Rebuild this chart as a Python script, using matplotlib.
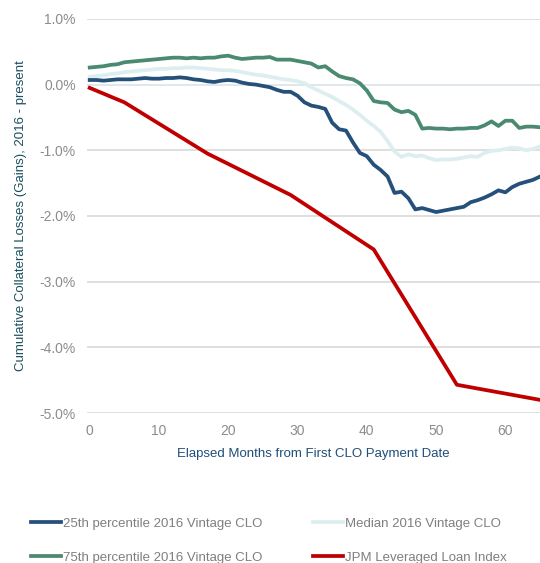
import numpy as np
import matplotlib
matplotlib.use("Agg")
import matplotlib.pyplot as plt

plt.rcParams['font.family'] = ['Liberation Sans', 'DejaVu Sans']

# months since first CLO payment date
months = list(range(66))

p25 = [0.07, 0.07, 0.06, 0.07, 0.08, 0.08, 0.08, 0.09, 0.10, 0.09,
       0.09, 0.10, 0.10, 0.11, 0.10, 0.08, 0.07, 0.05, 0.04, 0.06,
       0.07, 0.06, 0.03, 0.01, 0.00, -0.02, -0.04, -0.08, -0.11, -0.11,
       -0.17, -0.27, -0.32, -0.34, -0.37, -0.58, -0.68, -0.70, -0.88, -1.04,
       -1.09, -1.22, -1.30, -1.40, -1.65, -1.63, -1.73, -1.90, -1.88, -1.91,
       -1.94, -1.92, -1.90, -1.88, -1.86, -1.79, -1.76, -1.72, -1.67, -1.61,
       -1.64, -1.56, -1.51, -1.48, -1.45, -1.40]

median = [0.12, 0.13, 0.14, 0.16, 0.17, 0.19, 0.20, 0.21, 0.22, 0.23,
          0.24, 0.24, 0.25, 0.25, 0.26, 0.26, 0.25, 0.24, 0.23, 0.22,
          0.22, 0.21, 0.19, 0.17, 0.15, 0.14, 0.12, 0.10, 0.08, 0.07,
          0.05, 0.02, -0.04, -0.09, -0.14, -0.19, -0.25, -0.31, -0.38, -0.46,
          -0.55, -0.63, -0.72, -0.86, -1.02, -1.10, -1.06, -1.09, -1.08, -1.12,
          -1.15, -1.14, -1.14, -1.13, -1.11, -1.09, -1.10, -1.04, -1.01, -1.00,
          -0.98, -0.96, -0.97, -1.00, -0.98, -0.94]

p75 = [0.26, 0.27, 0.28, 0.30, 0.31, 0.34, 0.35, 0.36, 0.37, 0.38,
       0.39, 0.40, 0.41, 0.41, 0.40, 0.41, 0.40, 0.41, 0.41, 0.43,
       0.44, 0.41, 0.39, 0.40, 0.41, 0.41, 0.42, 0.38, 0.38, 0.38,
       0.36, 0.34, 0.32, 0.26, 0.28, 0.20, 0.13, 0.10, 0.08, 0.02,
       -0.09, -0.25, -0.27, -0.28, -0.38, -0.42, -0.40, -0.46, -0.67, -0.66,
       -0.67, -0.67, -0.68, -0.67, -0.67, -0.66, -0.66, -0.62, -0.56, -0.63,
       -0.55, -0.55, -0.66, -0.64, -0.64, -0.65]

jpm_months = [0, 5, 17, 29, 41, 53, 65]
jpm = [-0.05, -0.27, -1.05, -1.68, -2.51, -4.57, -4.80]

yticks = np.arange(-5, 1.01, 1)

fig = plt.figure(figsize=(5.4, 5.63), dpi=100)
ax = fig.add_axes([0.161, 0.2664, 0.839, 0.7])

lw = 2.7
ax.plot(months, median, color='#ddeef0', lw=lw, label='Median 2016 Vintage CLO', zorder=3)
ax.plot(months, p75, color='#4a8a70', lw=lw, label='75th percentile 2016 Vintage CLO', zorder=4)
ax.plot(months, p25, color='#24507a', lw=lw, label='25th percentile 2016 Vintage CLO', zorder=5)
ax.plot(jpm_months, jpm, color='#c00000', lw=lw, label='JPM Leveraged Loan Index', zorder=6)

ax.set_xlim(-0.4, 65)
ax.set_ylim(-5, 1)
ax.set_yticks(yticks)
ax.set_yticklabels([f"{v:.1f}%" for v in yticks])
ax.set_xticks(range(0, 61, 10))
for v in yticks:
    ax.axhline(v, color='#dae3ea' if v == 0 else '#d9d9d9', lw=1.2, zorder=1)

for s in ax.spines.values():
    s.set_visible(False)
ax.tick_params(length=0, colors='#8c8c8c', labelsize=10, pad=8)

ax.set_xlabel('Elapsed Months from First CLO Payment Date', color='#1f4e79', fontsize=9.5, labelpad=7)
ax.set_ylabel('Cumulative Collateral Losses (Gains), 2016 - present', color='#1a4f5e', fontsize=9.5, labelpad=9)

h, l = ax.get_legend_handles_labels()
order = [2, 1, 0, 3]
fig.legend([h[i] for i in order], [l[i] for i in order], ncol=2, loc='lower left',
           bbox_to_anchor=(0.035, -0.022), frameon=False, fontsize=9.5,
           labelcolor='#7f7f7f', handlelength=2.3, handletextpad=0.15,
           columnspacing=3.8, labelspacing=1.65)

fig.savefig('out.png', dpi=100)
